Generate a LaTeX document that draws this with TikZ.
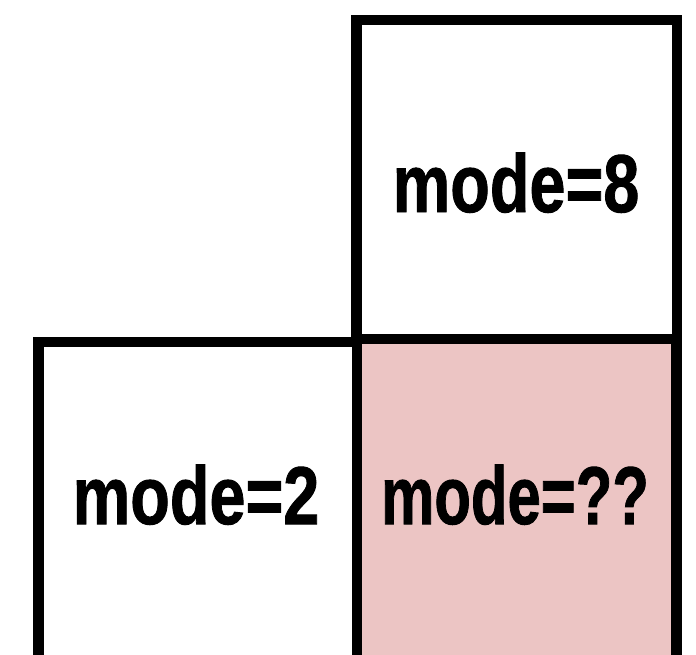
\documentclass[tikz,border=0pt]{standalone}
\usepackage{fontspec}
\setmainfont{Liberation Sans}
\newfontfamily\lblfont{Liberation Sans}[BoldFeatures={FakeBold=1.2}]
\definecolor{pinkfill}{RGB}{236,197,196}
\begin{document}
\begin{tikzpicture}[x=1pt,y=-1pt,
  box/.style={draw=black, line width=10.5pt, inner sep=0pt, outer sep=0pt, anchor=north west},
  lbl/.style={font=\lblfont\fontsize{82}{86}\selectfont\bfseries, anchor=base, inner sep=0pt, text=black}]
\useasboundingbox (0,0) rectangle (696,654);
\clip (0,0) rectangle (696,654);
\node[box, fill=pinkfill, minimum width=319.5pt, minimum height=381pt] (pinkbox) at (357,339) {};
\node[box, fill=white, minimum width=318.5pt, minimum height=378pt] (leftbox) at (38.5,342) {};
\node[box, fill=white, minimum width=320.5pt, minimum height=319pt] (topbox) at (356.5,20) {};
\node[lbl] (t8) at (516,212) {\scalebox{0.79}[1]{mode=8}};
\node[lbl] (t2) at (196,524) {\scalebox{0.79}[1]{mode=2}};
\node[lbl] (tq) at (515,524) {\scalebox{0.73}[1]{mode=??}};
\end{tikzpicture}
\end{document}
